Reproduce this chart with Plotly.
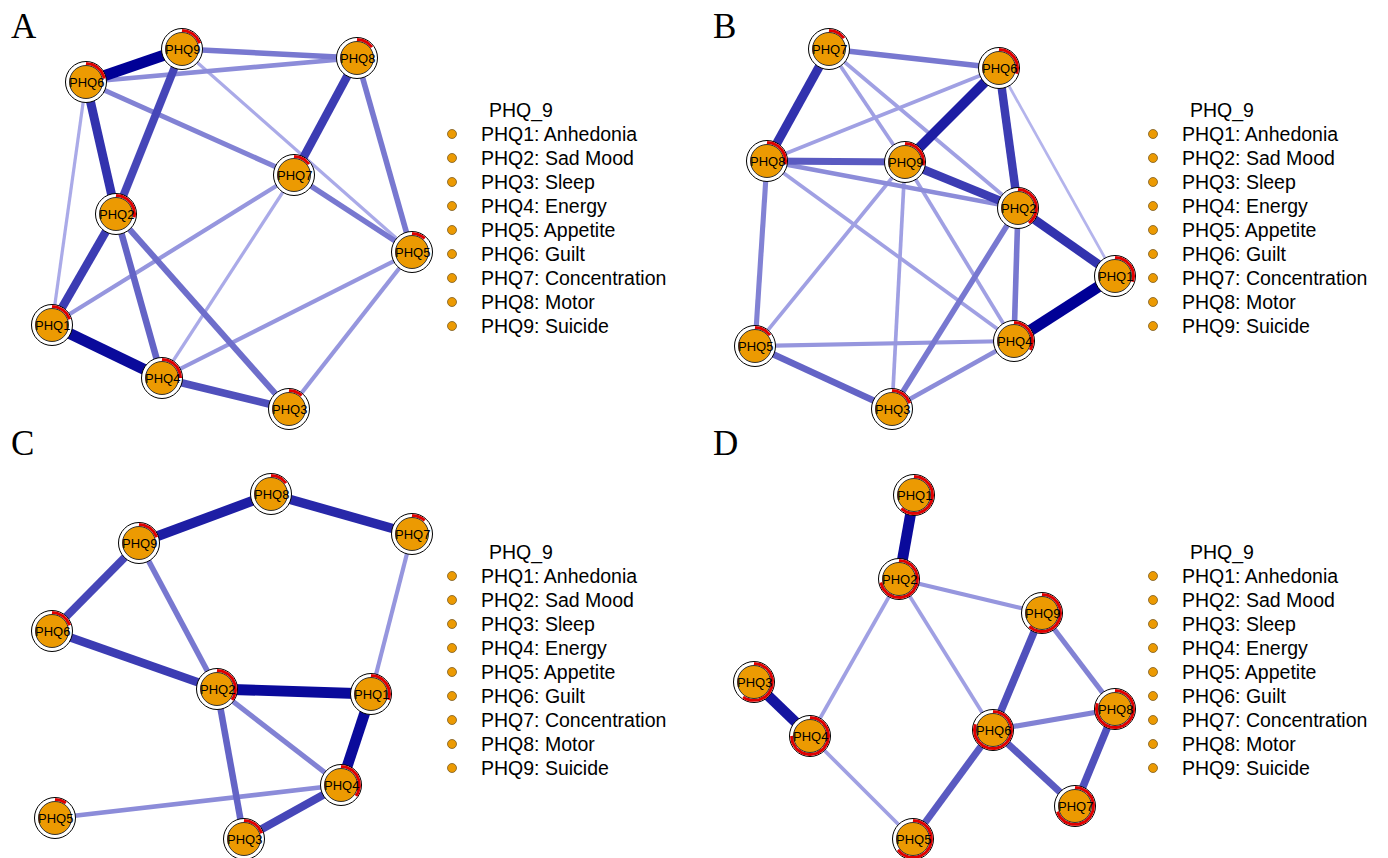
import numpy as np
import plotly.graph_objects as go

W, H = 1388, 858

node_names = ["PHQ1", "PHQ2", "PHQ3", "PHQ4", "PHQ5", "PHQ6", "PHQ7", "PHQ8", "PHQ9"]
legend_title = "PHQ_9"
legend_items = ["PHQ1: Anhedonia", "PHQ2: Sad Mood", "PHQ3: Sleep", "PHQ4: Energy",
                "PHQ5: Appetite", "PHQ6: Guilt", "PHQ7: Concentration", "PHQ8: Motor",
                "PHQ9: Suicide"]

# ---- Panel A ----
A_x = [52, 116, 289, 162, 412, 86, 294, 357, 182]
A_y = [325, 214, 409, 378, 252, 82, 175, 58, 49]
A_pred = [0.20, 0.28, 0.12, 0.25, 0.12, 0.22, 0.15, 0.15, 0.20]
A_edges = [(6, 9, 1.0), (9, 8, 0.4), (6, 8, 0.3), (6, 2, 0.75), (9, 2, 0.65),
           (6, 7, 0.35), (6, 1, 0.15), (9, 5, 0.15), (8, 7, 0.7), (8, 5, 0.4),
           (7, 5, 0.4), (7, 1, 0.25), (7, 4, 0.15), (2, 1, 0.7), (2, 4, 0.5),
           (2, 3, 0.45), (1, 4, 0.95), (4, 3, 0.6), (4, 5, 0.25), (3, 5, 0.25)]

# ---- Panel B ----
B_x = [1115, 1018, 892, 1014, 755, 999, 829, 767, 905]
B_y = [276, 208, 409, 341, 346, 68, 49, 161, 162]
B_pred = [0.30, 0.40, 0.20, 0.33, 0.15, 0.30, 0.15, 0.28, 0.28]
B_edges = [(7, 6, 0.4), (7, 8, 0.75), (7, 9, 0.2), (7, 2, 0.2), (6, 8, 0.2),
           (6, 9, 0.85), (6, 2, 0.7), (6, 1, 0.1), (8, 9, 0.55), (8, 2, 0.3),
           (8, 4, 0.2), (8, 5, 0.35), (9, 2, 0.7), (9, 5, 0.2), (9, 3, 0.2),
           (9, 4, 0.2), (2, 1, 0.75), (2, 4, 0.4), (2, 3, 0.4), (1, 4, 1.0),
           (5, 4, 0.25), (5, 3, 0.5), (4, 3, 0.3)]

# ---- Panel C ----
C_x = [371, 217, 244, 341, 55, 52, 412, 271, 139]
C_y = [694, 689, 839, 785, 818, 631, 534, 494, 543]
C_pred = [0.30, 0.35, 0.20, 0.35, 0.10, 0.20, 0.12, 0.15, 0.20]
C_edges = [(9, 8, 0.85), (8, 7, 0.8), (9, 6, 0.65), (9, 2, 0.4), (6, 2, 0.7),
           (7, 1, 0.25), (2, 1, 0.95), (2, 4, 0.35), (2, 3, 0.5), (1, 4, 0.95),
           (4, 5, 0.3), (4, 3, 0.65)]

# ---- Panel D ----
D_x = [914, 899, 754, 810, 913, 993, 1075, 1115, 1042]
D_y = [495, 579, 682, 736, 839, 730, 806, 709, 613]
D_pred = [0.62, 0.72, 0.60, 0.75, 0.65, 0.80, 0.70, 0.80, 0.62]
D_edges = [(1, 2, 0.95), (2, 9, 0.25), (2, 4, 0.2), (2, 6, 0.2), (3, 4, 0.9),
           (4, 5, 0.2), (9, 6, 0.6), (9, 8, 0.35), (6, 8, 0.35), (6, 5, 0.55),
           (6, 7, 0.55), (8, 7, 0.6)]

panels = [
    ("A", A_x, A_y, A_pred, A_edges, (9, 26), (452, 110)),
    ("B", B_x, B_y, B_pred, B_edges, (711, 26), (1153, 110)),
    ("C", C_x, C_y, C_pred, C_edges, (9, 443), (452, 552)),
    ("D", D_x, D_y, D_pred, D_edges, (711, 443), (1153, 552)),
]

ORANGE = "#EC9A02"
light = np.array([200, 200, 246])
dark = np.array([0, 0, 150])


def edge_color(w):
    c = light + (dark - light) * w
    return "rgb(%d,%d,%d)" % tuple(c.round().astype(int))


fig = go.Figure()
annotations = []

for letter, xs, ys, pred, edges, lpos, legpos in panels:
    for a, b, w in sorted(edges, key=lambda e: e[2]):
        fig.add_trace(go.Scatter(
            x=[xs[a - 1], xs[b - 1]], y=[ys[a - 1], ys[b - 1]], mode="lines",
            line=dict(color=edge_color(w), width=1.8 + 9.5 * w),
            hoverinfo="skip", showlegend=False))
    fig.add_trace(go.Scatter(
        x=xs, y=ys, mode="markers",
        marker=dict(size=41, color="white", line=dict(color="black", width=1)),
        hoverinfo="skip", showlegend=False))
    for i, f in enumerate(pred):
        t = np.linspace(0, 1, 60)
        ang = np.deg2rad(90 - 360 * f * t)
        r = 18.5
        fig.add_trace(go.Scatter(
            x=xs[i] + r * np.cos(ang), y=ys[i] - r * np.sin(ang), mode="lines",
            line=dict(color="#E00000", width=3),
            hoverinfo="skip", showlegend=False))
    fig.add_trace(go.Scatter(
        x=xs, y=ys, mode="markers",
        marker=dict(size=33, color=ORANGE, line=dict(color="#333333", width=1)),
        hoverinfo="skip", showlegend=False))
    for i, nm in enumerate(node_names):
        annotations.append(dict(x=xs[i], y=ys[i], xref="x", yref="y", text=nm,
                                showarrow=False, xanchor="center", yanchor="middle",
                                font=dict(family="Liberation Sans, Arial", size=13,
                                          color="black")))
    annotations.append(dict(x=lpos[0], y=lpos[1], xref="x", yref="y", text=letter,
                            showarrow=False, xanchor="left", yanchor="middle",
                            font=dict(family="Liberation Serif, Times New Roman", size=35,
                                      color="black")))
    lx, ly = legpos
    annotations.append(dict(x=lx + 35, y=ly, xref="x", yref="y", text=legend_title,
                            showarrow=False, xanchor="left", yanchor="middle",
                            font=dict(family="Liberation Sans, Arial", size=19.5,
                                      color="black")))
    item_y = [ly + 24 * (k + 1) for k in range(len(legend_items))]
    fig.add_trace(go.Scatter(
        x=[lx] * len(legend_items), y=item_y, mode="markers",
        marker=dict(size=9, color=ORANGE, line=dict(color="#7a5a20", width=0.8)),
        hoverinfo="skip", showlegend=False))
    for k, it in enumerate(legend_items):
        annotations.append(dict(x=lx + 27, y=item_y[k], xref="x", yref="y", text=it,
                                showarrow=False, xanchor="left", yanchor="middle",
                                font=dict(family="Liberation Sans, Arial", size=19.5,
                                          color="black")))

fig.update_layout(
    width=W, height=H, margin=dict(l=0, r=0, t=0, b=0),
    paper_bgcolor="white", plot_bgcolor="white",
    xaxis=dict(range=[0, W], visible=False, fixedrange=True),
    yaxis=dict(range=[H, 0], visible=False, fixedrange=True),
    annotations=annotations, showlegend=False,
)

fig.write_html("out.html", config={"displayModeBar": False},
               post_script="document.body.style.margin='0';document.body.style.overflow='hidden';")
